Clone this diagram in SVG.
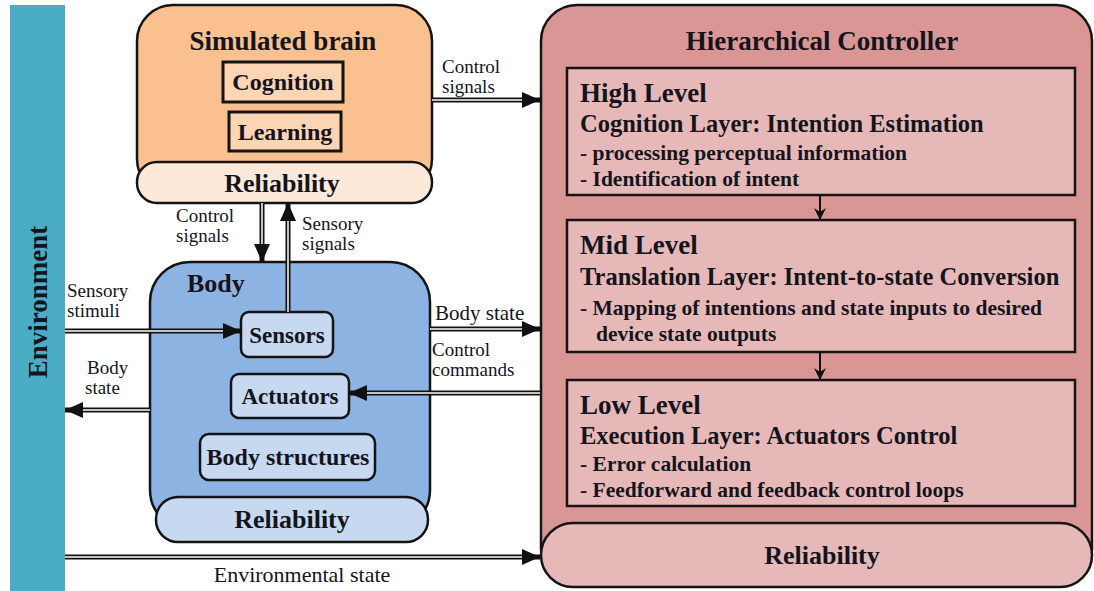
<svg xmlns="http://www.w3.org/2000/svg" width="1094" height="591" viewBox="0 0 1094 591" font-family="'Liberation Serif', 'DejaVu Serif', serif">
<style>
text{font-family:'Liberation Serif','DejaVu Serif',serif;fill:#14141c}
.b{font-weight:bold}
.box{stroke:#141414;stroke-width:2.5}
.lbl{font-size:19px}
.blk{stroke:#111;stroke-width:5;fill:none}
.wht{stroke:#fff;stroke-width:1.5;fill:none}
.thin{stroke:#111;stroke-width:2;fill:none}
</style>
<defs>
<marker id="ah" viewBox="0 0 18 16" refX="18" refY="8" markerWidth="18" markerHeight="16" markerUnits="userSpaceOnUse" orient="auto"><path d="M0,0 L18,8 L0,16 z" fill="#111"/></marker>
<marker id="sh" viewBox="0 0 12 12" refX="11" refY="6" markerWidth="12" markerHeight="12" markerUnits="userSpaceOnUse" orient="auto"><path d="M0,0 L12,6 L0,12 L4,6 z" fill="#111"/></marker>
</defs>
<rect width="1094" height="591" fill="#fff"/>

<g id="environment">
<rect x="10" y="5" width="55" height="586" fill="#4bacc6"/>
<text class="b" x="38" y="302" font-size="27" text-anchor="middle" transform="rotate(-90 38 302)" dy="9">Environment</text>
</g>

<g id="simulated-brain">
<rect class="box" x="137" y="5" width="295" height="190" rx="36" fill="#fac090"/>
<rect class="box" x="137" y="162" width="295" height="41" rx="20" fill="#fde9d9"/>
<text class="b" x="283" y="50" font-size="27" text-anchor="middle">Simulated brain</text>
<rect x="223" y="62" width="120" height="40" fill="#fcd5b4" stroke="#141414" stroke-width="3"/>
<text class="b" x="283" y="90" font-size="24" text-anchor="middle">Cognition</text>
<rect x="229" y="112" width="112" height="39" fill="#fcd5b4" stroke="#141414" stroke-width="3"/>
<text class="b" x="285" y="140" font-size="24" text-anchor="middle">Learning</text>
<text class="b" x="282" y="192" font-size="26" text-anchor="middle">Reliability</text>
</g>

<g id="body">
<rect class="box" x="150" y="262" width="280" height="268" rx="40" fill="#8db3e2"/>
<rect class="box" x="156" y="497" width="272" height="45" rx="22" fill="#c6d9f1"/>
<text class="b" x="187" y="292" font-size="26">Body</text>
<rect class="box" x="241" y="312" width="92" height="45" rx="8" fill="#c6d9f1"/>
<text class="b" x="287" y="343" font-size="23" text-anchor="middle">Sensors</text>
<rect class="box" x="231" y="374" width="118" height="44" rx="8" fill="#c6d9f1"/>
<text class="b" x="290" y="404" font-size="23" text-anchor="middle">Actuators</text>
<rect class="box" x="200" y="434" width="175" height="46" rx="9" fill="#c6d9f1"/>
<text class="b" x="288" y="465" font-size="24" text-anchor="middle">Body structures</text>
<text class="b" x="292" y="528" font-size="26" text-anchor="middle">Reliability</text>
</g>

<g id="hierarchical-controller">
<rect class="box" x="541" y="5" width="551" height="580" rx="36" fill="#da9694"/>
<text class="b" x="822" y="50" font-size="27" text-anchor="middle">Hierarchical Controller</text>
</g>

<g id="high-level">
<rect class="box" x="567" y="68" width="508" height="127" fill="#e6b9b8"/>
<text class="b" x="580" y="102" font-size="27">High Level</text>
<text class="b" x="580" y="132" font-size="24.5">Cognition Layer: Intention Estimation</text>
<text class="b" x="580" y="160" font-size="21.5">- processing perceptual information</text>
<text class="b" x="580" y="186" font-size="21.5">- Identification of intent</text>
</g>

<g id="mid-level">
<rect class="box" x="567" y="220" width="508" height="132" fill="#e6b9b8"/>
<text class="b" x="580" y="254" font-size="27">Mid Level</text>
<text class="b" x="580" y="285" font-size="24.5">Translation Layer: Intent-to-state Conversion</text>
<text class="b" x="580" y="315" font-size="21.5">- Mapping of intentions and state inputs to desired</text>
<text class="b" x="596" y="341" font-size="21.5">device state outputs</text>
</g>

<g id="low-level">
<rect class="box" x="567" y="380" width="508" height="126" fill="#e6b9b8"/>
<text class="b" x="580" y="414" font-size="27">Low Level</text>
<text class="b" x="580" y="444" font-size="24.5">Execution Layer: Actuators Control</text>
<text class="b" x="580" y="471" font-size="21.5">- Error calculation</text>
<text class="b" x="580" y="497" font-size="21.5">- Feedforward and feedback control loops</text>
</g>

<g id="hc-reliability">
<rect class="box" x="541" y="523" width="551" height="64" rx="32" fill="#e6b9b8"/>
<text class="b" x="822" y="564" font-size="26" text-anchor="middle">Reliability</text>
</g>

<g id="connectors">
<path class="blk" d="M432,100 H540" marker-end="url(#ah)"/><path class="wht" d="M432,100 H522"/>
<path class="blk" d="M262,203 V262" marker-end="url(#ah)"/><path class="wht" d="M262,203 V244"/>
<path class="blk" d="M288,312 V203" marker-end="url(#ah)"/><path class="wht" d="M288,312 V221"/>
<path class="blk" d="M65,331 H241" marker-end="url(#ah)"/><path class="wht" d="M65,331 H223"/>
<path class="blk" d="M150,410 H65" marker-end="url(#ah)"/><path class="wht" d="M150,410 H83"/>
<path class="blk" d="M430,329 H540" marker-end="url(#ah)"/><path class="wht" d="M430,329 H522"/>
<path class="blk" d="M540,393 H349" marker-end="url(#ah)"/><path class="wht" d="M540,393 H367"/>
<path class="blk" d="M65,557 H540" marker-end="url(#ah)"/><path class="wht" d="M65,557 H522"/>
<path class="thin" d="M820,195 V219" marker-end="url(#sh)"/>
<path class="thin" d="M820,352 V379" marker-end="url(#sh)"/>
<g class="lbl">
<text x="442" y="73">Control</text><text x="442" y="93">signals</text>
<text x="176" y="222">Control</text><text x="176" y="242">signals</text>
<text x="302" y="230">Sensory</text><text x="302" y="250">signals</text>
<text x="67" y="297">Sensory</text><text x="67" y="317">stimuli</text>
<text x="87" y="374">Body</text><text x="85" y="394">state</text>
<text x="435" y="320" font-size="21">Body state</text>
<text x="432" y="356">Control</text><text x="432" y="376">commands</text>
<text x="302" y="582" text-anchor="middle" font-size="22">Environmental state</text>
</g>
</g>
</svg>
